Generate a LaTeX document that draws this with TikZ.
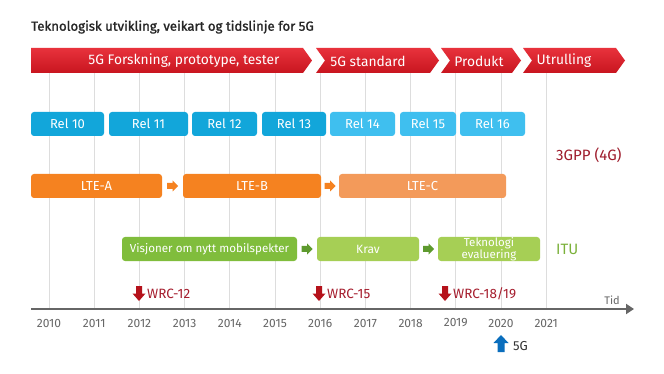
\documentclass[tikz,border=0pt]{standalone}
\usepackage{fontspec}
\setmainfont{Fira Sans}
\newfontfamily\titlefont[FakeBold=1.3]{Fira Sans}
\usetikzlibrary{arrows.meta,calc}
\definecolor{bannertop}{HTML}{E8323C}
\definecolor{bannerbot}{HTML}{C8151F}
\definecolor{reldark}{HTML}{12A6DA}
\definecolor{rellight}{HTML}{3FBFEF}
\definecolor{ltea}{HTML}{F58220}
\definecolor{ltec}{HTML}{F39A5A}
\definecolor{grdark}{HTML}{80BD3C}
\definecolor{grlight}{HTML}{A6CF55}
\definecolor{grarrow}{HTML}{5E9A2E}
\definecolor{gppred}{HTML}{9E1C2C}
\definecolor{itugreen}{HTML}{7BB13A}
\definecolor{wrcred}{HTML}{B5121B}
\definecolor{wrctext}{HTML}{A51D2D}
\definecolor{gridgray}{HTML}{DDDDDD}
\definecolor{axisgray}{HTML}{666666}
\definecolor{fgblue}{HTML}{0A6EBD}
\tikzset{
  box/.style={rounded corners=3pt, minimum height=24pt, inner sep=0pt, text=white,
    font=\fontsize{13}{15}\selectfont},
  bannertext/.style={text=white, font=\fontsize{13.8}{15}\selectfont, inner sep=0pt},
  yeartext/.style={text=axisgray, font=\fontsize{12}{14}\selectfont, inner sep=0pt},
  wrclabel/.style={text=wrctext, font=\fontsize{13.5}{15}\selectfont, inner sep=0pt, anchor=west},
  fatright/.pic={\fill[pic actions] (-5.5,-3)--(0,-3)--(0,-5.5)--(5.5,0)--(0,5.5)--(0,3)--(-5.5,3)--cycle;},
  fatdown/.pic={\fill[pic actions] (-3,-7.5)--(3,-7.5)--(3,0)--(6.5,0)--(0,7.5)--(-6.5,0)--(-3,0)--cycle;},
}
\begin{document}
\begin{tikzpicture}[x=1pt,y=-1pt]
\useasboundingbox[fill=white] (0,0) rectangle (664,374);
% grid lines
\foreach \i in {0,...,11}{
  \draw[gridgray, line width=1pt] (49+45.2*\i,73) -- (49+45.2*\i,309);
}
% title
\node[anchor=west, inner sep=0pt, font=\titlefont\fontsize{13.2}{15}\selectfont, text=black!85] (title) at (31,27) {Teknologisk utvikling, veikart og tidslinje for 5G};
% banner
\shade[top color=bannertop, bottom color=bannerbot] (31,48) -- (303,48) -- (312,60.5) -- (303,73) -- (31,73) -- cycle;
\shade[top color=bannertop, bottom color=bannerbot] (316,48) -- (430,48) -- (439,60.5) -- (430,73) -- (316,73) -- (325,60.5) -- cycle;
\shade[top color=bannertop, bottom color=bannerbot] (441,48) -- (512,48) -- (521,60.5) -- (512,73) -- (441,73) -- (450,60.5) -- cycle;
\shade[top color=bannertop, bottom color=bannerbot] (523,48) -- (616,48) -- (625,60.5) -- (616,73) -- (523,73) -- (532,60.5) -- cycle;
\node[bannertext] (b1) at (184,61) {5G Forskning, prototype, tester};
\node[bannertext] (b2) at (368,61) {5G standard};
\node[bannertext] (b3) at (479,61) {Produkt};
\node[bannertext] (b4) at (564,61) {Utrulling};
% releases
\node[box, fill=reldark, minimum width=73pt] (r10) at (67.5,124) {Rel 10};
\node[box, fill=reldark, minimum width=79pt] (r11) at (148.5,124) {Rel 11};
\node[box, fill=reldark, minimum width=65pt] (r12) at (224.5,124) {Rel 12};
\node[box, fill=reldark, minimum width=64pt] (r13) at (294,124) {Rel 13};
\node[box, fill=rellight, minimum width=65pt] (r14) at (362.5,124) {Rel 14};
\node[box, fill=rellight, minimum width=56pt] (r15) at (428,124) {Rel 15};
\node[box, fill=rellight, minimum width=65pt] (r16) at (492.5,124) {Rel 16};
\node[text=gppred, font=\fontsize{15}{17}\selectfont, anchor=west, inner sep=0pt] (gpp) at (556,155) {3GPP (4G)};
% LTE
\node[box, fill=ltea, minimum width=131pt] (ltea) at (96.5,186) {LTE-A};
\node[box, fill=ltea, minimum width=138pt] (lteb) at (252,186) {LTE-B};
\node[box, fill=ltec, minimum width=167pt] (ltec) at (422.5,186) {LTE-C};
\pic[fill=ltea] at ($(ltea.east)!0.5!(lteb.west)$) {fatright};
\pic[fill=ltea] at ($(lteb.east)!0.5!(ltec.west)$) {fatright};
% ITU
\node[box, fill=grdark, minimum width=175pt, font=\fontsize{11.6}{13}\selectfont] (vis) at (209.5,249) {Visjoner om nytt mobilspekter};
\node[box, fill=grlight, minimum width=102pt, font=\fontsize{12}{13}\selectfont] (krav) at (368,249) {Krav};
\node[box, fill=grlight, minimum width=102pt, align=center, font=\fontsize{11.5}{8.5}\selectfont] (tek) at (489,249) {Teknologi\\evaluering};
\pic[fill=grarrow] at ($(vis.east)!0.5!(krav.west)$) {fatright};
\pic[fill=grarrow] at ($(krav.east)!0.5!(tek.west)$) {fatright};
\node[text=itugreen, font=\fontsize{15}{17}\selectfont, anchor=west, inner sep=0pt] (itu) at (556,249) {ITU};
% axis
\coordinate (axstart) at (31,309);
\coordinate (axend) at (634,309);
\draw[axisgray, line width=1.8pt, -{Triangle[length=8pt,width=10pt]}] (axstart) -- (axend);
\node[text=axisgray, font=\fontsize{11}{12}\selectfont, inner sep=0pt] (tid) at (612,300) {Tid};
\foreach \y [count=\i from 0] in {2010,...,2021}{
  \node[yeartext] (y\y) at (49+45.2*\i,323) {\y};
}
% WRC
\pic[fill=wrcred] at (139,293.5) {fatdown};
\node[wrclabel] (w12) at (147,294) {WRC-12};
\pic[fill=wrcred] at (319,293.5) {fatdown};
\node[wrclabel] (w15) at (327,294) {WRC-15};
\pic[fill=wrcred] at (445,293.5) {fatdown};
\node[wrclabel] (w18) at (453,294) {WRC-18/19};
% 5G
\fill[fgblue] (497.5,352) -- (504.5,352) -- (504.5,343) -- (508.5,343) -- (501,335) -- (493.5,343) -- (497.5,343) -- cycle;
\node[text=black!80, font=\fontsize{13}{15}\selectfont, anchor=west, inner sep=0pt] (fg) at (513,346) {5G};
\end{tikzpicture}
\end{document}
